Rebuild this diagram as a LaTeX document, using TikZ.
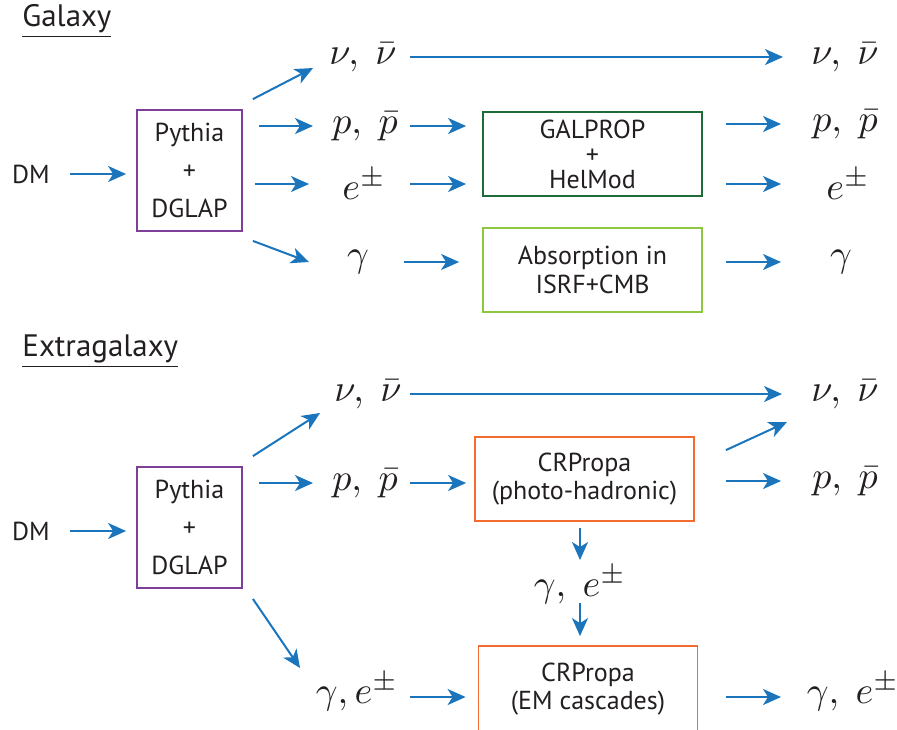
\documentclass[tikz,border=0pt]{standalone}
\usepackage{fontspec}
\setmainfont{PT Sans}
\usetikzlibrary{arrows.meta}
\definecolor{arrblue}{HTML}{1B75BC}
\definecolor{pythpurple}{HTML}{7F3F98}
\definecolor{galgreen}{HTML}{1E6B3A}
\definecolor{absgreen}{HTML}{8DC63F}
\definecolor{crorange}{HTML}{F26B2F}
\definecolor{inkgray}{HTML}{231F20}
\begin{document}
\begin{tikzpicture}[x=0.5pt,y=-0.5pt,
  every node/.style={inner sep=0pt,text=inkgray},
  txt/.style={font=\fontsize{13}{14}\selectfont},
  ptl/.style={scale=1.9},
  ttl/.style={font=\fontsize{15.5}{18}\selectfont,anchor=west},
  box/.style={draw,line width=0.9pt,align=center,minimum width=109.5pt,minimum height=42pt,font=\fontsize{13}{14}\selectfont},
  pyth/.style={draw=pythpurple,line width=0.9pt,align=center,minimum width=52.5pt,minimum height=60.5pt,font=\fontsize{13}{19}\selectfont},
  arr/.style={draw=arrblue,line width=1pt,-{Stealth[length=9pt,width=8pt,inset=2.5pt]}}]
\useasboundingbox (0,0) rectangle (897,729);
\clip (0,0) rectangle (897,729);
\node[ttl] (galT) at (22,21) {\underline{Galaxy}};
\node[txt] (dmG) at (31,174) {DM};
\node[pyth] (pythG) at (189.5,170.5) {Pythia\\+\\DGLAP};
\node[ptl] (nuG) at (363,57) {$\nu,\ \bar{\nu}$};
\node[ptl] (pG) at (365,126) {$p,\ \bar{p}$};
\node[ptl] (eG) at (364,184) {$e^{\pm}$};
\node[ptl] (gG) at (358,262) {$\gamma$};
\node[box,draw=galgreen,font=\fontsize{13}{12.5}\selectfont] (galprop) at (592.5,154) {GALPROP\\+\\HelMod};
\node[box,draw=absgreen,font=\fontsize{13}{14.5}\selectfont] (absorp) at (592.5,270) {Absorption in\\ISRF+CMB};
\node[ptl] (nuGo) at (845,57) {$\nu,\ \bar{\nu}$};
\node[ptl] (pGo) at (845,124) {$p,\ \bar{p}$};
\node[ptl] (eGo) at (848,184) {$e^{\pm}$};
\node[ptl] (gGo) at (841,262) {$\gamma$};
\draw[arr,shorten <=19.5pt,shorten >=5pt] (dmG.center) -- (dmG.center -| pythG.west);
\draw[arr] ([shift={(10,-10)}]pythG.north east) -- ([shift={(-50,11)}]nuG.center);
\draw[arr,shorten <=8pt,shorten >=26pt] (pythG.east |- pG.center) -- (pG.center);
\draw[arr,shorten <=6pt,shorten >=27.5pt] (pythG.east |- eG.center) -- (eG.center);
\draw[arr] ([shift={(10,9)}]pythG.south east) -- ([shift={(-49,0)}]gG.center);
\draw[arr,shorten <=23.5pt,shorten >=31pt] (nuG.center) -- (nuGo.center);
\draw[arr,shorten <=22.5pt,shorten >=8pt] (pG.center) -- (pG.center -| galprop.west);
\draw[arr,shorten <=23pt,shorten >=8pt] (eG.center) -- (eG.center -| galprop.west);
\draw[arr,shorten <=23pt,shorten >=11.5pt] (gG.center) -- (gG.center -| absorp.west);
\draw[arr,shorten <=11.5pt,shorten >=32pt] (galprop.east |- pGo.center) -- (pGo.center);
\draw[arr,shorten <=11.5pt,shorten >=33.5pt] (galprop.east |- eGo.center) -- (eGo.center);
\draw[arr,shorten <=11.5pt,shorten >=30pt] (absorp.east |- gGo.center) -- (gGo.center);
\node[ttl] (extT) at (22,351) {\underline{Extragalaxy}};
\node[txt] (dmX) at (31,531) {DM};
\node[pyth] (pythX) at (189.5,527.5) {Pythia\\+\\DGLAP};
\node[ptl] (nuX) at (368,394) {$\nu,\ \bar{\nu}$};
\node[ptl] (pX) at (365,483) {$p,\ \bar{p}$};
\node[ptl] (geX) at (357,692) {$\gamma, e^{\pm}$};
\node[box,draw=crorange] (crphoto) at (584.5,479) {CRPropa\\(photo-hadronic)};
\node[ptl] (geMid) at (580,585) {$\gamma,\ e^{\pm}$};
\node[box,draw=crorange,minimum height=43pt] (crem) at (588,689) {CRPropa\\(EM cascades)};
\node[ptl] (nuXo) at (845,394) {$\nu,\ \bar{\nu}$};
\node[ptl] (pXo) at (845,481) {$p,\ \bar{p}$};
\node[ptl] (geXo) at (853,692) {$\gamma,\ e^{\pm}$};
\draw[arr,shorten <=19.5pt,shorten >=5pt] (dmX.center) -- (dmX.center -| pythX.west);
\draw[arr] ([shift={(10,-10)}]pythX.north east) -- ([shift={(-48,19)}]nuX.center);
\draw[arr,shorten <=8pt,shorten >=26pt] (pythX.east |- pX.center) -- (pX.center);
\draw[arr] ([shift={(10,10)}]pythX.south east) -- ([shift={(-57,-24)}]geX.center);
\draw[arr,shorten <=21pt,shorten >=31.5pt] (nuX.center) -- (nuXo.center);
\draw[arr,shorten <=22.5pt,shorten >=4pt] (pX.center) -- (pX.center -| crphoto.west);
\draw[arr] ([shift={(31,14)}]crphoto.north east) -- ([shift={(-58,28)}]nuXo.center);
\draw[arr,shorten <=15.5pt,shorten >=32pt] (crphoto.east |- pXo.center) -- (pXo.center);
\draw[arr,shorten <=3pt,shorten >=12.5pt] (geMid.center |- crphoto.south) -- (geMid.center);
\draw[arr,shorten <=9pt,shorten >=4.5pt] (geMid.center) -- (geMid.center |- crem.north);
\draw[arr,shorten <=26.5pt,shorten >=6pt] ([shift={(0,5)}]geX.center) -- ([shift={(0,5)}]geX.center -| crem.west);
\draw[arr,shorten <=14pt,shorten >=36pt] ([shift={(0,5)}]geXo.center -| crem.east) -- ([shift={(0,5)}]geXo.center);
\end{tikzpicture}
\end{document}
